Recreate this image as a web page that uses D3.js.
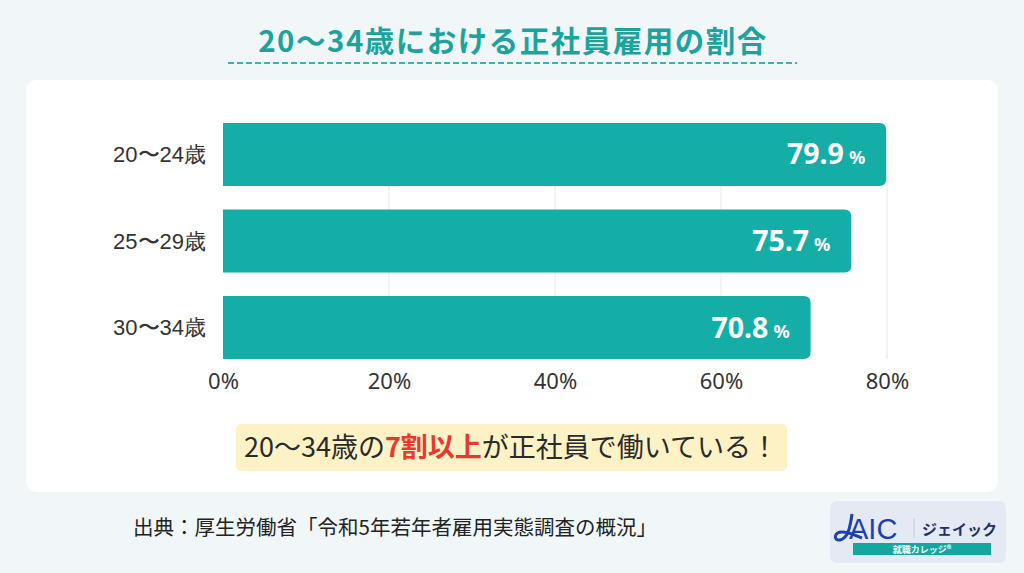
<!DOCTYPE html>
<html><head><meta charset="utf-8">
<script src="https://cdn.jsdelivr.net/npm/d3@7"></script>
<style>
html,body{margin:0;padding:0;background:#f1f7f8;}
svg{display:block;font-family:"Noto Sans CJK JP","Noto Sans",sans-serif;}
</style></head><body>
<svg id="c" width="1024" height="573"></svg>
<script>
const categories = ["20〜24歳", "25〜29歳", "30〜34歳"];
const values = [79.9, 75.7, 70.8];
const tickValues = [0, 20, 40, 60, 80];
const title = "20〜34歳における正社員雇用の割合";
const source = "出典：厚生労働省「令和5年若年者雇用実態調査の概況」";

const svg = d3.select("#c");
const teal = "#14aea6";

// background panel
svg.append("rect").attr("x",26).attr("y",80).attr("width",972).attr("height",412)
  .attr("rx",10).attr("fill","#ffffff");

// title
svg.append("text").attr("x",513).attr("y",52).attr("text-anchor","middle")
  .attr("font-size",29.5).attr("font-weight",700).attr("fill","#1ea39c")
  .attr("letter-spacing",1.5).text(title);
svg.append("line").attr("x1",228).attr("x2",797).attr("y1",63).attr("y2",63)
  .attr("stroke","#3db3ac").attr("stroke-width",2).attr("stroke-dasharray","6,3");

const x = d3.scaleLinear().domain([0,80]).range([223,887]);
const y = d3.scaleBand().domain(categories).range([111.25,370.75]).paddingInner(0.2717).paddingOuter(0.1358);

// gridlines
svg.append("g").selectAll("line").data(tickValues.slice(1)).join("line")
  .attr("x1",d=>x(d)).attr("x2",d=>x(d)).attr("y1",y(categories[0])).attr("y2",y(categories[2])+y.bandwidth())
  .attr("stroke","#e6e6e6").attr("stroke-width",1);

// bars: square left, rounded right
const r = 7;
function barPath(x0,x1,y0,h){
  return `M${x0},${y0}H${x1-r}Q${x1},${y0} ${x1},${y0+r}V${y0+h-r}Q${x1},${y0+h} ${x1-r},${y0+h}H${x0}Z`;
}
svg.append("g").selectAll("path").data(values).join("path")
  .attr("d",(d,i)=>barPath(x(0), x(d), y(categories[i]), y.bandwidth()))
  .attr("fill",teal);

// value labels
const vl = svg.append("g").selectAll("text").data(values).join("text")
  .attr("x",d=>x(d)-21).attr("y",(d,i)=>y(categories[i])+y.bandwidth()/2+10)
  .attr("text-anchor","end").attr("fill","#fff").attr("font-weight",700)
  .attr("font-family","'Noto Sans',sans-serif");
vl.append("tspan").attr("font-size",28.5).text(d=>d.toFixed(1));
vl.append("tspan").attr("font-size",18).attr("dx",5).text("%");

// x axis
const xAxis = d3.axisBottom(x).tickValues(tickValues).tickFormat(d=>d+"%").tickSize(0).tickPadding(0);
const gx = svg.append("g").attr("transform","translate(0,389)").call(xAxis);
gx.select(".domain").remove();
gx.selectAll("text").attr("font-size",22).attr("fill","#333").attr("dy",0)
  .attr("font-family","'Noto Sans',sans-serif");

// y axis
const yAxis = d3.axisLeft(y).tickSize(0).tickPadding(0);
const gy = svg.append("g").attr("transform","translate(206,0)").call(yAxis);
gy.select(".domain").remove();
gy.selectAll("text").attr("font-size",22).attr("fill","#333").attr("dy","0.35em");

// callout
svg.append("rect").attr("x",236).attr("y",424).attr("width",551).attr("height",47)
  .attr("rx",5).attr("fill","#fdf2c6");
const ct = svg.append("text").attr("x",511).attr("y",457).attr("text-anchor","middle")
  .attr("font-size",27).attr("fill","#2a2a2a");
ct.append("tspan").text("20〜34歳の");
ct.append("tspan").attr("fill","#e8392f").attr("font-weight",700).text("7割以上");
ct.append("tspan").text("が正社員で働いている！");

// source
svg.append("text").attr("x",133).attr("y",535).attr("font-size",20.5).attr("fill","#222").text(source);

// logo
const lg = svg.append("g");
lg.append("rect").attr("x",830).attr("y",501).attr("width",176).attr("height",62).attr("rx",7).attr("fill","#e5e9f4");
lg.append("path").attr("d","M852,514 C850,528 848,538 840,540 C833,541 834,532 842,532 C850,532 856,536 862,538")
  .attr("fill","none").attr("stroke","#1d3fb0").attr("stroke-width",3);
lg.append("text").attr("x",849).attr("y",539).attr("font-size",29)
  .attr("font-family","'Liberation Sans',sans-serif").attr("fill","#1d3fb0").text("AIC");
lg.append("line").attr("x1",914).attr("x2",914).attr("y1",518).attr("y2",538).attr("stroke","#c9ccd6");
lg.append("text").attr("x",922).attr("y",535).attr("font-size",15).attr("font-weight",700).attr("fill","#23305e").text("ジェイック");
lg.append("rect").attr("x",853).attr("y",543).attr("width",138).attr("height",12).attr("fill","#13a79f");
lg.append("text").attr("x",922).attr("y",553).attr("text-anchor","middle").attr("font-size",9).attr("font-weight",700)
  .attr("fill","#fff").text("就職カレッジ®");
</script>
</body></html>
